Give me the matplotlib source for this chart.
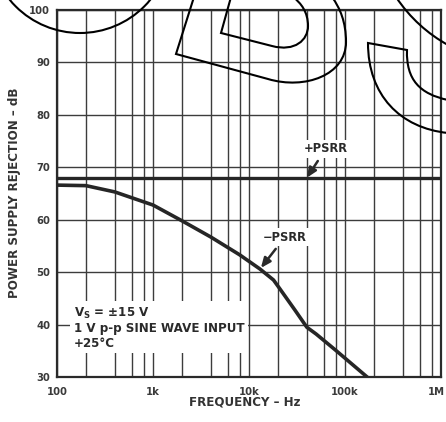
import matplotlib
matplotlib.use("Agg")
import matplotlib.pyplot as plt
from matplotlib.path import Path
from matplotlib.patches import PathPatch, Circle
from matplotlib.transforms import Affine2D, ScaledTranslation

plt.rcParams['font.family'] = ['DejaVu Sans']
plt.rcParams['font.weight'] = 'bold'
plt.rcParams['mathtext.fontset'] = 'dejavusans'
plt.rcParams['mathtext.default'] = 'bf'

# ---- data ----
freq_minus = [100, 200, 400, 1000, 2000, 4000, 8000, 13000, 18000, 21000,
              30000, 40000, 50000, 80000, 170000]
psrr_minus = [66.6, 66.5, 65.3, 62.8, 59.8, 56.7, 53.3, 50.6, 48.5, 46.8,
              42.8, 39.5, 38.2, 35.1, 30.0]
freq_plus = [100, 1000000]
psrr_plus = [68.0, 68.0]

x_major = [100, 1000, 10000, 100000, 1000000]
x_major_labels = ["100", "1k", "10k", "100k", "1M"]
x_minor_mult = [2, 4, 6, 8]
y_ticks = [30, 40, 50, 60, 70, 80, 90, 100]
y_tick_labels = ["30", "40", "50", "60", "70", "80", "90", "100"]

W, H = 446, 422
fig = plt.figure(figsize=(W / 100, H / 100), dpi=100)
ax = fig.add_axes([57 / W, 1 - 377 / H, (441 - 57) / W, (377 - 10) / H])

ax.set_xscale('log')
ax.set_xlim(100, 1000000)
ax.set_ylim(30, 100)

x_minor = [m * d for d in x_major[:-1] for m in x_minor_mult]
ax.set_xticks(x_major)
ax.set_xticklabels(x_major_labels)
ax.set_xticks(x_minor, minor=True)
ax.set_xticklabels([], minor=True)
ax.set_yticks(y_ticks)
ax.set_yticklabels(y_tick_labels)

ax.tick_params(which='both', length=0)
ax.tick_params(axis='x', pad=7, labelsize=7.2, labelcolor='#3a3a3a')
ax.tick_params(axis='y', pad=5, labelsize=7.2, labelcolor='#3a3a3a')
for lab in ax.get_xticklabels() + ax.get_yticklabels():
    lab.set_fontweight('bold')
# keep the last x label ("1M") inside the picture
last = ax.get_xticklabels()[-1]
last.set_transform(last.get_transform() +
                   ScaledTranslation(-5 / 100, 0, fig.dpi_scale_trans))

ax.grid(True, which='both', color='#3c3c3c', linewidth=1.0)
ax.set_axisbelow(True)
for s in ax.spines.values():
    s.set_linewidth(1.6)
    s.set_color('#2a2a2a')

ax.plot(freq_plus, psrr_plus, color='#262626', linewidth=2.4, zorder=3)
ax.plot(freq_minus, psrr_minus, color='#262626', linewidth=2.6, zorder=3,
        solid_joinstyle='round')

bbox_w = dict(facecolor='white', edgecolor='none', pad=1.5)
arrow = dict(arrowstyle='-|>,head_length=0.7,head_width=0.3',
             color='#2a2a2a', lw=1.8, shrinkA=3, shrinkB=0)
ax.annotate('+PSRR', xy=(40000, 68.0), xytext=(63000, 73.5),
            ha='center', va='center', fontsize=8.3, fontweight='bold',
            color='#2a2a2a', bbox=bbox_w, zorder=5, arrowprops=arrow)
ax.annotate('\u2212PSRR', xy=(13300, 50.8), xytext=(23700, 56.7),
            ha='center', va='center', fontsize=8.3, fontweight='bold',
            color='#2a2a2a', bbox=bbox_w, zorder=5, arrowprops=arrow)

ax.text(0.043, 0.195, "V$_{S}$ = \u00b115 V\n1 V p-p SINE WAVE INPUT\n+25\u00b0C",
        transform=ax.transAxes, ha='left', va='top', fontsize=8.6,
        fontweight='bold', color='#2a2a2a', linespacing=1.15,
        bbox=dict(facecolor='white', edgecolor='none', pad=2.5), zorder=5)

fig.text(15 / W, 1 - 193 / H, "POWER SUPPLY REJECTION \u2013 dB", rotation=90,
         ha='center', va='center', fontsize=8.6, fontweight='bold',
         color='#333333')
fig.text(245 / W, 1 - 402 / H, "FREQUENCY \u2013 Hz", ha='center', va='center',
         fontsize=8.6, fontweight='bold', color='#333333')

# ---- watermark outlines (decoration, in pixel coords from top-left) ----
px = Affine2D().scale(1 / W, -1 / H).translate(0, 1) + fig.transFigure
M, L, C = Path.MOVETO, Path.LINETO, Path.CURVE4
wm_style = dict(facecolor='none', edgecolor='black', linewidth=1.5,
                transform=px, zorder=20, clip_on=False)

shapes = [
    # outer D
    ([(194, -3), (176, 54), (268, 79),
      (305, 90), (346, 75), (346, 42),
      (346, 22), (340, 8), (332, -3)],
     [M, L, L, C, C, C, C, C, C]),
    # inner D
    ([(231, -3), (221, 33), (272, 46),
      (295, 52), (308, 40), (308, 26),
      (308, 12), (301, 3), (293, -3)],
     [M, L, L, C, C, C, C, C, C]),
    # right hook
    ([(448, 100), (420, 94), (406, 80), (407, 50),
      (368, 43),
      (368, 95), (400, 128), (448, 133)],
     [M, C, C, C, L, C, C, C]),
    # top-right arc
    ([(396, -3), (410, 18), (428, 34), (448, 45)],
     [M, C, C, C]),
]
for verts, codes in shapes:
    fig.add_artist(PathPatch(Path(verts, codes), **wm_style))
fig.add_artist(Circle((80, -58), 91, **wm_style))

fig.savefig("out.png", dpi=100)
